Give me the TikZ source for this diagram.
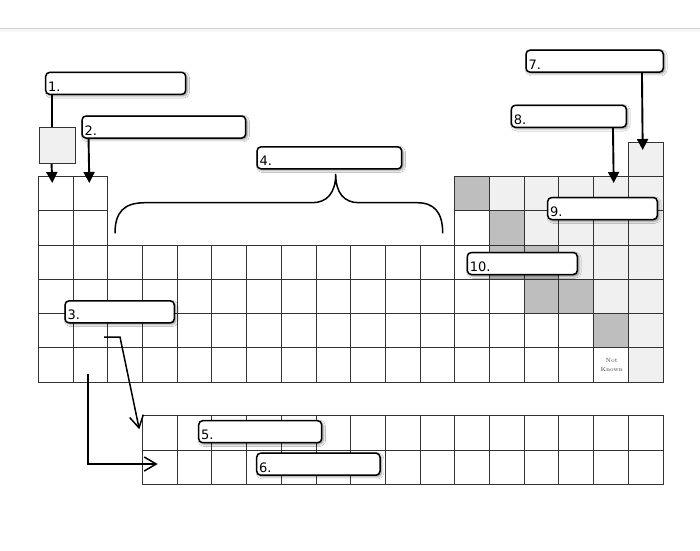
\documentclass[tikz,border=0pt]{standalone}
\usepackage{fontspec}
\newfontfamily\labelfont{DejaVu Sans}
\usetikzlibrary{arrows.meta,shadows.blur,calc}
\definecolor{cellL}{HTML}{F0F0F0}
\definecolor{cellD}{HTML}{BEBEBE}
\definecolor{gridc}{HTML}{333333}
\begin{document}
\begin{tikzpicture}[x=1pt,y=-1pt,
  cellbox/.style={draw=gridc,line width=0.8pt},
  lbox/.style={draw=black,line width=1.5pt,rounded corners=4pt,fill=white,
    blur shadow={shadow xshift=1.6pt,shadow yshift=-1.6pt,shadow blur radius=2.2pt,shadow opacity=45},
    inner xsep=2.5pt,inner ysep=0pt,minimum height=22pt,
    font=\labelfont\fontsize{13}{15}\selectfont,align=left,text height=16pt,text depth=0pt},
  conn/.style={line width=1.9pt,draw=black},
  fconn/.style={conn,-{Triangle[length=11pt,width=11pt]}},
  oconn/.style={line width=1.5pt,draw=black,-{Straight Barb[length=12pt,width=14pt,line width=1.5pt]}},
  bracestyle/.style={line width=1.5pt,draw=black}]
\useasboundingbox (0,0) rectangle (700,550);
\fill[white] (0,0) rectangle (700,550);
% top rule
\fill[gray!6] (0,28.8) rectangle (700,32);
\draw[gray!35,line width=1pt] (0,28.3) -- (700,28.3);
% grid
\def\cw{34.7}\def\rh{34.3}\def\gx{38.3}\def\gy{176.3}
\newcommand\pcell[3]{\path[cellbox,fill=#3] ({\gx+(#1-1)*\cw},{\gy+(#2-1)*\rh}) rectangle ++(\cw,\rh);}
\foreach \c in {1,2} \foreach \r in {1,...,6} {\pcell{\c}{\r}{white}}
\foreach \c in {3,...,12} \foreach \r in {3,...,6} {\pcell{\c}{\r}{white}}
\foreach \c in {13,...,18} \foreach \r in {1,...,6} {\pcell{\c}{\r}{cellL}}
\foreach \c/\r in {13/2,13/3,13/4,14/4,13/5,14/5,15/5,16/5,13/6,14/6,15/6,16/6,17/6} {\pcell{\c}{\r}{white}}
\foreach \c/\r in {13/1,14/2,14/3,15/3,15/4,16/4,17/5} {\pcell{\c}{\r}{cellD}}
\pcell{18}{0}{cellL}
\foreach \c in {4,...,18} \foreach \r in {1,2}
  {\path[cellbox,fill=white] ({\gx+(\c-1)*\cw},{415.7+(\r-1)*\rh}) rectangle ++(\cw,\rh);}
\node[font=\fontsize{6}{8.8}\selectfont,align=center,text=black!75,inner sep=0pt] (nk) at (611.7,364.6) {Not\\Known};
% floating grey cell
\node[draw=gridc,fill=cellL,line width=0.8pt,minimum width=36pt,minimum height=36.7pt,inner sep=0pt] (gcell) at (57.3,145.35) {};
% brace
\draw[bracestyle] (115,233.3) .. controls (115,212) and (124,202.7) .. (145,202.7) -- (312,202.7)
  .. controls (327,202.7) and (335.7,193) .. (335.7,174)
  .. controls (335.7,193) and (344,202.7) .. (359,202.7) -- (417,202.7)
  .. controls (434,202.7) and (442.7,212) .. (442.7,233.3);
% label boxes
\newcommand\lbx[6]{\pgfmathsetmacro\bw{#4-#2}\pgfmathsetmacro\tw{#4-#2-5}%
  \node[lbox,minimum width=\bw pt,text width=\tw pt] (#1) at ({(#2+#4)/2},{(#3+#5)/2}) {#6};}
\lbx{b1}{45.7}{72}{185.7}{94.7}{1.}
\lbx{b2}{82}{116}{245.7}{138}{2.}
\lbx{b4}{257}{146.7}{401.7}{169}{4.}
\lbx{b7}{526}{50.3}{663.3}{72}{7.}
\lbx{b8}{511.3}{105.3}{626.3}{127.3}{8.}
\lbx{b9}{547.7}{197.7}{657.3}{219.3}{9.}
\lbx{b10}{467.3}{252.7}{577.3}{274.3}{10.}
% arrows 3
\coordinate (a3s) at (104,337);
\coordinate (a3k) at (120,337);
\coordinate (a3e) at (139.3,429.3);
\coordinate (b3s) at (88,374.3);
\coordinate (b3k) at (88,464);
\coordinate (b3e) at (157.7,464);
\draw[oconn] (a3s) -- (a3k) -- (a3e);
\draw[oconn] (b3s) -- (b3k) -- (b3e);
\lbx{b3}{65}{300.7}{174.3}{323}{3.}
\lbx{b5}{198.7}{420.7}{321.7}{442.7}{5.}
\lbx{b6}{256.7}{453.3}{380}{475}{6.}
% arrows
\coordinate (s1) at ([xshift=6.6pt]b1.south west);
\coordinate (s2) at ([xshift=7.3pt]b2.south west);
\coordinate (s7) at ([xshift=116.7pt]b7.south west);
\coordinate (s8) at ([xshift=102.4pt]b8.south west);
\coordinate (t1) at (52.3,183);
\coordinate (t2) at (89.3,183);
\coordinate (t7) at (642.7,150);
\coordinate (t8) at (613.7,183);
\draw[conn] (s1) -- (s1 |- gcell.north);
\draw[fconn] (s1 |- gcell.south) -- (t1);
\draw[fconn] (s2) -- (t2);
\draw[fconn] (s7) -- (t7);
\draw[fconn] (s8) -- (t8);
\end{tikzpicture}
\end{document}
